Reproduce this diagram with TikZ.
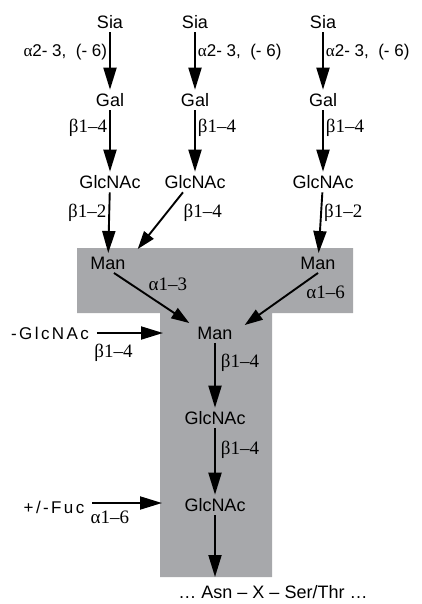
\documentclass[tikz,border=0pt]{standalone}
\usepackage{fontspec}
\setmainfont{Liberation Sans}
\newfontfamily\tms{Liberation Serif}
\newfontfamily\spaced[LetterSpace=14]{Liberation Sans}
\usetikzlibrary{arrows.meta}
\definecolor{tgrey}{RGB}{167,168,171}
\newcommand{\sialnk}{{\tms α}2- 3,\ \ (- 6)}
\tikzset{
  sug/.style={font=\fontsize{18}{20}\selectfont,inner xsep=4pt,inner ysep=3.5pt},
  bond/.style={-{Triangle[length=22pt,width=13pt]},line width=1.9pt},
  bondd/.style={bond,-{Triangle[length=18pt,width=12pt]}},
  lnk/.style={font=\tms\fontsize{19}{21}\selectfont,inner sep=2pt},
  sial/.style={font=\fontsize{17}{19}\selectfont,inner sep=2pt},
  side/.style={font=\spaced\fontsize{17}{19}\selectfont,inner xsep=8pt},
}
\begin{document}
\begin{tikzpicture}[x=1pt,y=-1pt]
  \useasboundingbox (0,0) rectangle (422,604);
  % trimannosyl core, grey T
  \fill[tgrey] (77,248) -- (353,248) -- (353,313) -- (272,313) -- (272,577)
    -- (160,577) -- (160,313) -- (77,313) -- cycle;

  % three antennae
  \foreach \i/\x in {1/110,2/195,3/323} {
    \node[sug] (sia\i) at (\x,22)  {Sia};
    \node[sug] (gal\i) at (\x,100) {Gal};
    \node[sug] (glc\i) at (\x,182) {GlcNAc};
  }
  \node[sug] (manl) at (108,263) {Man};
  \node[sug] (manr) at (318,263) {Man};
  \node[sug] (manc) at (215,333) {Man};
  \node[sug] (core1) at (215,418) {GlcNAc};
  \node[sug] (core2) at (215,505) {GlcNAc};
  \node[side] (bis) at (50,333) {-GlcNAc};
  \node[side] (fuc) at (54,507) {+/-Fuc};
  \node[sug,inner sep=0pt,anchor=base] (pep) at (273,598) {… Asn – X – Ser/Thr …};
  \coordinate (bisend) at (163,333);
  \coordinate (fucend) at (162,503);
  \coordinate (stemend) at (215,577);

  % Sia -> Gal
  \draw[bond] (sia1) -- node[sial,left,pos=0.34] (la1) {\sialnk} (gal1);
  \draw[bond] (sia2) -- node[sial,right,pos=0.34] (la2) {\sialnk} (gal2);
  \draw[bond] (sia3) -- node[sial,right,pos=0.34] (la3) {\sialnk} (gal3);
  % Gal -> GlcNAc
  \draw[bond] (gal1) -- node[lnk,left,pos=0.29] (lb1) {β1–4} (glc1);
  \draw[bond] (gal2) -- node[lnk,right,pos=0.29] (lb2) {β1–4} (glc2);
  \draw[bond] (gal3) -- node[lnk,right,pos=0.29] (lb3) {β1–4} (glc3);
  % GlcNAc -> Man
  \draw[bond] (glc1) -- node[lnk,left,pos=0.33] (lc1) {β1–2} (manl);
  \draw[bondd] ([xshift=-12pt]glc2.south) -- node[lnk,right=14pt,pos=0.36] (lc2) {β1–4}
    ([xshift=8pt,yshift=4pt]manl.north east);
  \draw[bond] (glc3) -- node[lnk,right,pos=0.33] (lc3) {β1–2} (manr);
  % core
  \draw[bondd] ([xshift=6pt]manl.south) -- node[lnk,above right,pos=0.42] (ld1) {α1–3}
    ([xshift=-4pt]manc.north west);
  \draw[bondd] (manr.south) -- node[lnk,below right,pos=0.2] (ld2) {α1–6}
    ([xshift=8pt,yshift=-2pt]manc.north east);
  \draw[bond] (manc) -- node[lnk,right=3pt,pos=0.31] (le1) {β1–4} (core1);
  \draw[bond] (core1) -- node[lnk,right=3pt,pos=0.33] (le2) {β1–4} (core2);
  \draw[bond] (core2) -- (stemend);
  \draw[bond] (bis) -- node[lnk,below=8pt,pos=0.25] (lf1) {β1–4} (bisend);
  \draw[bond] ([yshift=4pt]fuc.east) -- node[lnk,below=5pt,pos=0.25] (lf2) {α1–6} (fucend);
\end{tikzpicture}
\end{document}
